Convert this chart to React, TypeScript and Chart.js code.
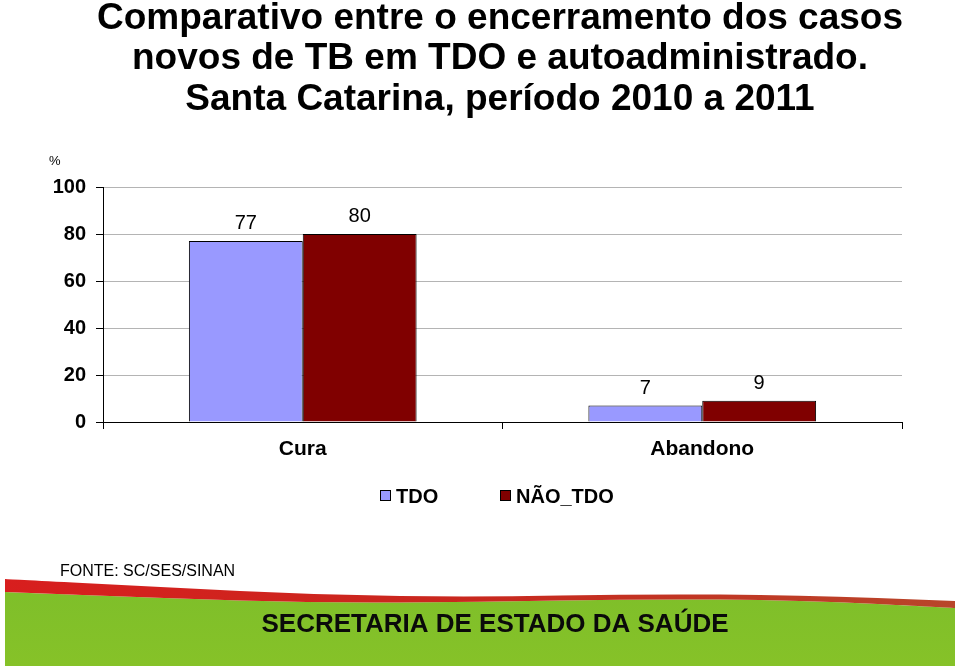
import React, { useEffect, useRef } from "react";
import { Chart, registerables } from "chart.js";

Chart.register(...registerables);

const categories = ["Cura", "Abandono"];
const seriesNames = ["TDO", "NÃO_TDO"];
const tdoValues = [77, 7];
const naoTdoValues = [80, 9];
const seriesColors = ["#9999FF", "#800000"];
const yTicks = [0, 20, 40, 60, 80, 100];
const titleLines = [
  "Comparativo entre o encerramento dos casos",
  "novos de TB em TDO e autoadministrado.",
  "Santa Catarina, período 2010 a 2011",
];
const sourceText = "FONTE: SC/SES/SINAN";
const bannerText = "SECRETARIA DE ESTADO DA SAÚDE";

const FONT = "'Liberation Sans', Arial, Helvetica, sans-serif";

const decorPlugin = {
  id: "decor",
  beforeDraw(chart: any) {
    const ctx = chart.ctx as CanvasRenderingContext2D;
    ctx.save();
    ctx.fillStyle = "#ffffff";
    ctx.fillRect(0, 0, chart.width, chart.height);

    const top = [
      [5, 579], [160, 587], [320, 595], [480, 597], [640, 594], [800, 595], [955, 601],
    ];
    const bot = [
      [5, 592], [160, 598], [320, 603], [480, 602], [640, 599], [800, 600], [955, 608],
    ];
    const trace = (pts: number[][], start: boolean) => {
      if (start) ctx.moveTo(pts[0][0], pts[0][1]);
      else ctx.lineTo(pts[0][0], pts[0][1]);
      for (let i = 1; i < pts.length; i++) {
        const [x0, y0] = pts[i - 1];
        const [x1, y1] = pts[i];
        ctx.quadraticCurveTo(x0, y0, (x0 + x1) / 2, (y0 + y1) / 2);
      }
      ctx.lineTo(pts[pts.length - 1][0], pts[pts.length - 1][1]);
    };
    ctx.beginPath();
    trace(bot, true);
    ctx.lineTo(955, 666);
    ctx.lineTo(5, 666);
    ctx.closePath();
    const g = ctx.createLinearGradient(0, 595, 0, 666);
    g.addColorStop(0, "#7fbf2a");
    g.addColorStop(1, "#86c228");
    ctx.fillStyle = g;
    ctx.fill();

    ctx.beginPath();
    trace(top, true);
    trace(bot.slice().reverse(), false);
    ctx.closePath();
    const r = ctx.createLinearGradient(0, 0, 960, 0);
    r.addColorStop(0, "#d81e1e");
    r.addColorStop(0.5, "#c8281e");
    r.addColorStop(1, "#b8462a");
    ctx.fillStyle = r;
    ctx.fill();
    ctx.restore();
  },
  afterDraw(chart: any) {
    const ctx = chart.ctx as CanvasRenderingContext2D;
    ctx.save();
    ctx.fillStyle = "#000000";
    ctx.textAlign = "center";
    ctx.textBaseline = "alphabetic";
    ctx.font = `bold 37px ${FONT}`;
    const baselines = [29, 69, 110];
    titleLines.forEach((t, i) => ctx.fillText(t, 500, baselines[i]));

    ctx.textAlign = "left";
    ctx.font = `13px ${FONT}`;
    ctx.fillText("%", 49, 165);

    ctx.textAlign = "center";
    ctx.font = `20px ${FONT}`;
    chart.data.datasets.forEach((ds: any, di: number) => {
      const meta = chart.getDatasetMeta(di);
      meta.data.forEach((el: any, i: number) => {
        ctx.fillText(String(ds.data[i]), el.x, el.y - 12);
      });
    });

    const legendX = [380, 500];
    ctx.textAlign = "left";
    ctx.font = `bold 20px ${FONT}`;
    chart.data.datasets.forEach((ds: any, di: number) => {
      const x = legendX[di];
      ctx.fillStyle = ds.backgroundColor;
      ctx.fillRect(x, 490, 10, 10);
      ctx.strokeStyle = "#000";
      ctx.lineWidth = 1;
      ctx.strokeRect(x + 0.5, 490.5, 10, 10);
      ctx.fillStyle = "#000";
      ctx.fillText(ds.label, x + 16, 503);
    });

    ctx.font = `16px ${FONT}`;
    ctx.fillText(sourceText, 60, 576);

    ctx.textAlign = "center";
    ctx.font = `bold 26px ${FONT}`;
    ctx.fillStyle = "#0a0a0a";
    ctx.fillText(bannerText, 495, 632);
    ctx.restore();
  },
};

export default function App() {
  const ref = useRef<HTMLCanvasElement | null>(null);
  useEffect(() => {
    if (!ref.current) return;
    const chart = new Chart(ref.current, {
      type: "bar",
      data: {
        labels: categories,
        datasets: [
          {
            label: seriesNames[0],
            data: tdoValues,
            backgroundColor: seriesColors[0],
            borderColor: "#000000",
            borderWidth: 1,
            barPercentage: 1,
            categoryPercentage: 0.57,
          },
          {
            label: seriesNames[1],
            data: naoTdoValues,
            backgroundColor: seriesColors[1],
            borderColor: "#000000",
            borderWidth: 1,
            barPercentage: 1,
            categoryPercentage: 0.57,
          },
        ],
      },
      options: {
        responsive: false,
        animation: false,
        layout: { padding: { top: 187, right: 58, bottom: 196, left: 0 } },
        plugins: {
          legend: { display: false },
          title: { display: false },
          tooltip: { enabled: false },
        },
        scales: {
          y: {
            min: 0,
            max: 100,
            afterBuildTicks: (axis: any) => {
              axis.ticks = yTicks.map((v) => ({ value: v }));
            },
            afterFit: (axis: any) => {
              axis.width = 103;
            },
            ticks: {
              color: "#000",
              padding: 10,
              font: { family: FONT, size: 20, weight: "bold" },
            },
            grid: {
              color: "#b4b4b4",
              tickColor: "#000",
              tickLength: 7,
              lineWidth: 1,
            },
            border: { color: "#000", width: 1 },
          },
          x: {
            afterFit: (axis: any) => {
              axis.height = 50;
            },
            ticks: {
              color: "#000",
              padding: 8,
              font: { family: FONT, size: 21, weight: "bold" },
            },
            grid: {
              offset: true,
              drawOnChartArea: false,
              drawTicks: true,
              tickColor: "#000",
              tickLength: 7,
            },
            border: { color: "#000", width: 1 },
          },
        },
      },
      plugins: [decorPlugin],
    } as any);
    return () => chart.destroy();
  }, []);
  return (
    <div style={{ position: "fixed", left: 0, top: 0, width: 960, height: 668 }}>
      <canvas ref={ref} width={960} height={668} style={{ display: "block" }} />
    </div>
  );
}
